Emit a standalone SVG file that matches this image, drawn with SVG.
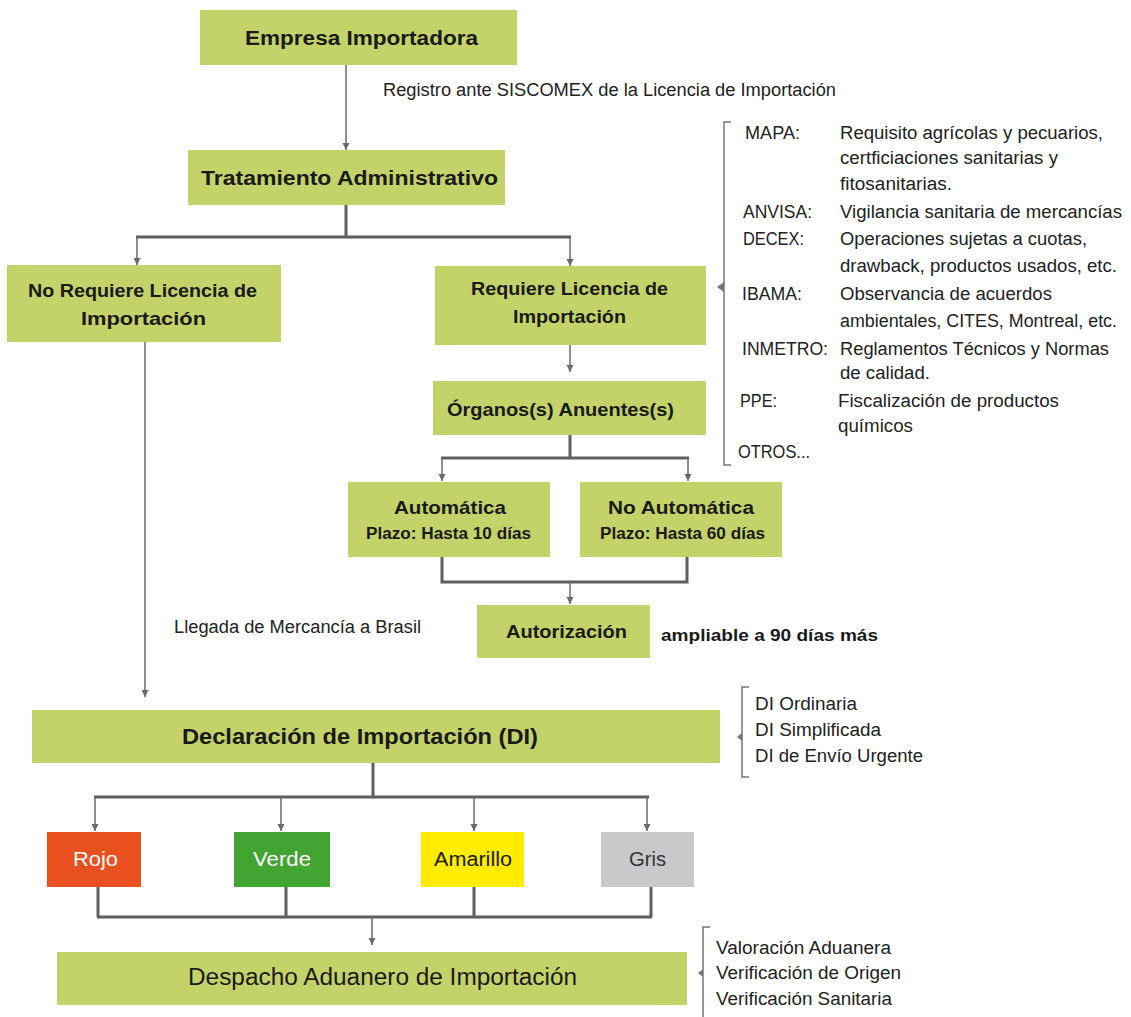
<svg xmlns="http://www.w3.org/2000/svg" width="1131" height="1017" viewBox="0 0 1131 1017">
  <style>
    .box { fill: #C3D369; }
    .t { font-family: "Liberation Sans", Arial, sans-serif; fill: #1a1a1a; }
    .b { font-weight: bold; }
    .lbl { font-family: "Liberation Sans", Arial, sans-serif; fill: #222; font-size: 18px; }
    .bus { fill: none; stroke: #5f5f5f; stroke-width: 3; }
    .arw { fill: none; stroke: #6a6a6a; stroke-width: 1.5; marker-end: url(#ah); }
    .brk { fill: none; stroke: #777; stroke-width: 1.5; }
    .tick { fill: #777; }
  </style>
  <defs>
    <marker id="ah" markerWidth="8" markerHeight="8" refX="7" refY="4" orient="auto" markerUnits="userSpaceOnUse">
      <path d="M0,0.5 L7,4 L0,7.5 Z" fill="#6a6a6a"/>
    </marker>
  </defs>
  <rect width="1131" height="1017" fill="#fff"/>

  <!-- connectors -->
  <g id="connectors">
    <path class="arw" d="M346,65 V150"/>
    <path class="bus" d="M346,205 V237 M136,237 H571"/>
    <path class="arw" d="M137,237 V265"/>
    <path class="arw" d="M570,237 V266"/>
    <path class="arw" d="M570,345 V372"/>
    <path class="bus" d="M570,435 V458 M441,458 H689"/>
    <path class="arw" d="M442,458 V481"/>
    <path class="arw" d="M688,458 V481"/>
    <path class="bus" d="M442,557 V582 H687 V557"/>
    <path class="arw" d="M570,582 V604"/>
    <path class="arw" d="M145,342 V697"/>
    <path class="bus" d="M373,763 V797 M94,797 H649"/>
    <path class="arw" d="M95,797 V831"/>
    <path class="arw" d="M281,797 V831"/>
    <path class="arw" d="M474,797 V831"/>
    <path class="arw" d="M647,797 V831"/>
    <path class="bus" d="M98,887 V917 M286,887 V917 M474,887 V917 M651,887 V917 M97,917 H652"/>
    <path class="arw" d="M372,917 V945"/>
  </g>

  <!-- nodes -->
  <g id="empresa">
    <rect class="box" x="200" y="10" width="317" height="55"/>
    <text class="t b" x="245" y="45" font-size="20" textLength="233" lengthAdjust="spacingAndGlyphs">Empresa Importadora</text>
  </g>
  <text class="lbl" x="383" y="96" textLength="453" lengthAdjust="spacingAndGlyphs">Registro ante SISCOMEX de la Licencia de Importación</text>

  <g id="tratamiento">
    <rect class="box" x="188" y="150" width="317" height="55"/>
    <text class="t b" x="201" y="185" font-size="21" textLength="297" lengthAdjust="spacingAndGlyphs">Tratamiento Administrativo</text>
  </g>

  <g id="no-requiere">
    <rect class="box" x="7" y="265" width="274" height="77"/>
    <text class="t b" x="28" y="297" font-size="19" textLength="229" lengthAdjust="spacingAndGlyphs">No Requiere Licencia de</text>
    <text class="t b" x="81" y="325" font-size="19" textLength="125" lengthAdjust="spacingAndGlyphs">Importación</text>
  </g>

  <g id="requiere">
    <rect class="box" x="435" y="266" width="271" height="79"/>
    <text class="t b" x="471" y="295" font-size="19" textLength="197" lengthAdjust="spacingAndGlyphs">Requiere Licencia de</text>
    <text class="t b" x="513" y="323" font-size="19" textLength="113" lengthAdjust="spacingAndGlyphs">Importación</text>
  </g>

  <g id="organos">
    <rect class="box" x="433" y="381" width="273" height="54"/>
    <text class="t b" x="447" y="416" font-size="19" textLength="227" lengthAdjust="spacingAndGlyphs">Órganos(s) Anuentes(s)</text>
  </g>

  <g id="automatica">
    <rect class="box" x="348" y="482" width="202" height="75"/>
    <text class="t b" x="394" y="514" font-size="19" textLength="112" lengthAdjust="spacingAndGlyphs">Automática</text>
    <text class="t b" x="366" y="539" font-size="16" textLength="165" lengthAdjust="spacingAndGlyphs">Plazo: Hasta 10 días</text>
  </g>

  <g id="no-automatica">
    <rect class="box" x="580" y="482" width="202" height="75"/>
    <text class="t b" x="608" y="514" font-size="19" textLength="146" lengthAdjust="spacingAndGlyphs">No Automática</text>
    <text class="t b" x="600" y="539" font-size="16" textLength="165" lengthAdjust="spacingAndGlyphs">Plazo: Hasta 60 días</text>
  </g>

  <g id="autorizacion">
    <rect class="box" x="477" y="605" width="173" height="53"/>
    <text class="t b" x="506" y="638" font-size="19" textLength="121" lengthAdjust="spacingAndGlyphs">Autorización</text>
  </g>
  <text class="t b" x="661" y="641" font-size="17" textLength="217" lengthAdjust="spacingAndGlyphs">ampliable  a 90 días más</text>
  <text class="lbl" x="174" y="633" textLength="247" lengthAdjust="spacingAndGlyphs">Llegada de Mercancía a Brasil</text>

  <!-- agencies list -->
  <g id="anuentes-lista">
    <path class="brk" d="M731,122 H724 V465 H731"/>
    <path class="tick" d="M717,287 L724,282 V292 Z"/>
    <g class="lbl">
      <text x="745" y="139" textLength="55" lengthAdjust="spacingAndGlyphs">MAPA:</text>
      <text x="840" y="139" textLength="263" lengthAdjust="spacingAndGlyphs">Requisito agrícolas y pecuarios,</text>
      <text x="840" y="164" textLength="218" lengthAdjust="spacingAndGlyphs">certficiaciones sanitarias y</text>
      <text x="840" y="190" textLength="112" lengthAdjust="spacingAndGlyphs">fitosanitarias.</text>
      <text x="743" y="218" textLength="69" lengthAdjust="spacingAndGlyphs">ANVISA:</text>
      <text x="840" y="218" textLength="282" lengthAdjust="spacingAndGlyphs">Vigilancia sanitaria de mercancías</text>
      <text x="743" y="245" textLength="61" lengthAdjust="spacingAndGlyphs">DECEX:</text>
      <text x="840" y="245" textLength="247" lengthAdjust="spacingAndGlyphs">Operaciones sujetas a cuotas,</text>
      <text x="840" y="272" textLength="277" lengthAdjust="spacingAndGlyphs">drawback, productos usados, etc.</text>
      <text x="742" y="300" textLength="60" lengthAdjust="spacingAndGlyphs">IBAMA:</text>
      <text x="840" y="300" textLength="212" lengthAdjust="spacingAndGlyphs">Observancia de acuerdos</text>
      <text x="840" y="327" textLength="277" lengthAdjust="spacingAndGlyphs">ambientales, CITES, Montreal, etc.</text>
      <text x="742" y="355" textLength="86" lengthAdjust="spacingAndGlyphs">INMETRO:</text>
      <text x="840" y="355" textLength="269" lengthAdjust="spacingAndGlyphs">Reglamentos Técnicos y Normas</text>
      <text x="840" y="379" textLength="90" lengthAdjust="spacingAndGlyphs">de calidad.</text>
      <text x="740" y="407" textLength="37" lengthAdjust="spacingAndGlyphs">PPE:</text>
      <text x="838" y="407" textLength="221" lengthAdjust="spacingAndGlyphs">Fiscalización de productos</text>
      <text x="838" y="432" textLength="75" lengthAdjust="spacingAndGlyphs">químicos</text>
      <text x="738" y="458" textLength="72" lengthAdjust="spacingAndGlyphs">OTROS...</text>
    </g>
  </g>

  <g id="declaracion">
    <rect class="box" x="32" y="710" width="688" height="53"/>
    <text class="t b" x="182" y="744" font-size="22" textLength="356" lengthAdjust="spacingAndGlyphs">Declaración de Importación (DI)</text>
  </g>
  <g id="tipos-di">
    <path class="brk" d="M749,687 H742 V777 H749"/>
    <path class="tick" d="M737,737 L742,733 V741 Z"/>
    <g class="lbl">
      <text x="755" y="710" textLength="102" lengthAdjust="spacingAndGlyphs">DI Ordinaria</text>
      <text x="755" y="736" textLength="126" lengthAdjust="spacingAndGlyphs">DI Simplificada</text>
      <text x="755" y="762" textLength="168" lengthAdjust="spacingAndGlyphs">DI de Envío Urgente</text>
    </g>
  </g>

  <g id="rojo">
    <rect x="47" y="832" width="94" height="55" fill="#E8501F"/>
    <text class="t" x="73" y="866" font-size="20" style="fill:#fff" textLength="45" lengthAdjust="spacingAndGlyphs">Rojo</text>
  </g>
  <g id="verde">
    <rect x="234" y="832" width="96" height="55" fill="#42A431"/>
    <text class="t" x="253" y="866" font-size="20" style="fill:#fff" textLength="58" lengthAdjust="spacingAndGlyphs">Verde</text>
  </g>
  <g id="amarillo">
    <rect x="421" y="832" width="103" height="55" fill="#FFEC00"/>
    <text class="t" x="434" y="866" font-size="20" textLength="78" lengthAdjust="spacingAndGlyphs">Amarillo</text>
  </g>
  <g id="gris">
    <rect x="601" y="832" width="93" height="55" fill="#C8C9CA"/>
    <text class="t" x="629" y="866" font-size="20" style="fill:#333" textLength="37" lengthAdjust="spacingAndGlyphs">Gris</text>
  </g>

  <g id="despacho">
    <rect class="box" x="57" y="952" width="630" height="53"/>
    <text class="t" x="188" y="985" font-size="23" textLength="389" lengthAdjust="spacingAndGlyphs">Despacho Aduanero de Importación</text>
  </g>
  <g id="controles">
    <path class="brk" d="M710,927 H703 V1017"/>
    <path class="tick" d="M698,973 L703,969 V977 Z"/>
    <g class="lbl">
      <text x="716" y="954" textLength="175" lengthAdjust="spacingAndGlyphs">Valoración Aduanera</text>
      <text x="716" y="979" textLength="185" lengthAdjust="spacingAndGlyphs">Verificación de Origen</text>
      <text x="716" y="1005" textLength="176" lengthAdjust="spacingAndGlyphs">Verificación Sanitaria</text>
    </g>
  </g>
</svg>
